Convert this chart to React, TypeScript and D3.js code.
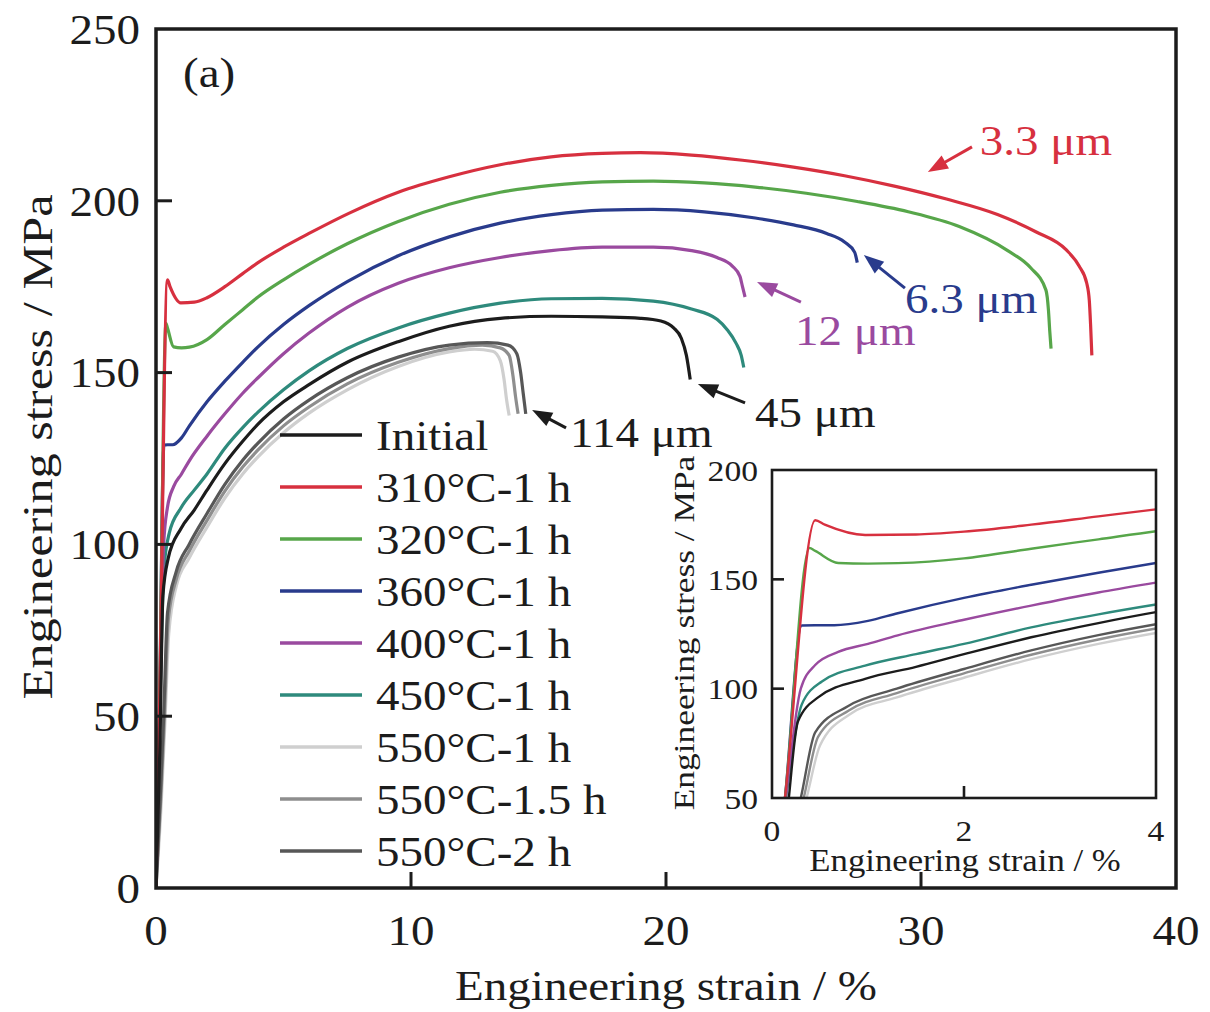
import React from 'react'
import * as d3 from 'd3'

// strain (%) / stress (MPa)
const strainInit = [0, 0.15, 0.27, 0.48, 0.97, 1.5, 2.0, 2.7, 3.4, 4.0, 5.0, 6.0, 7.5, 9.5, 11.5, 13.5, 15.5, 17.5, 19.0, 19.8, 20.3, 20.6, 20.8, 20.95]
const stressInit = [0, 40, 85, 96, 104.5, 110, 115.8, 123.5, 130, 135, 141.5, 146.5, 153, 159, 163.5, 165.8, 166.4, 166.2, 165.8, 165, 163, 160, 155, 148]

const strain310 = [0, 0.13, 0.45, 0.55, 0.97, 1.5, 2.0, 2.7, 3.4, 4.0, 5.0, 6.0, 7.6, 9.5, 11.5, 13.5, 15.5, 17.5, 19.0, 21.0, 23.0, 25.0, 27.0, 29.0, 31.0, 33.0, 34.5, 35.7, 36.2, 36.5, 36.6, 36.65, 36.7]
const stress310 = [0, 48, 177, 175, 170.3, 170.5, 171.8, 175, 178.8, 182, 186.5, 190.5, 196.5, 202.5, 207, 210.5, 212.8, 213.8, 214, 213.3, 211.8, 209.8, 207.3, 204.2, 200.5, 196, 191, 185.7, 181, 176, 171, 164, 155]

const strain320 = [0, 0.13, 0.39, 0.45, 0.69, 1.0, 1.31, 2.0, 2.7, 3.4, 4.0, 5.0, 6.0, 7.5, 9.5, 11.5, 13.5, 15.5, 17.5, 19.5, 21.5, 23.5, 25.5, 27.5, 29.5, 31.5, 33.4, 34.3, 34.9, 35.0, 35.05, 35.1]
const stress320 = [0, 48, 164.3, 163, 157.5, 157.2, 157.4, 159.6, 164, 168.3, 172, 177, 181.5, 187.5, 194, 199, 202.5, 204.5, 205.5, 205.7, 205.2, 204, 202.2, 199.8, 196.8, 192.5, 185.5, 180.5, 174, 168, 162, 157]

const strain360 = [0, 0.13, 0.31, 0.45, 0.65, 1.0, 1.31, 2.0, 2.7, 3.4, 4.0, 5.0, 6.0, 7.5, 9.5, 11.5, 13.5, 15.5, 17.5, 19.5, 21.5, 23.5, 25.0, 26.3, 27.0, 27.4, 27.5]
const stress360 = [0, 48, 128.9, 129, 129, 131, 134.5, 141.5, 147.5, 153, 157.5, 164, 169.5, 176.5, 184, 189.5, 193.5, 196, 197.3, 197.5, 196.8, 195, 193, 190.5, 188, 185, 182]

const strain400 = [0, 0.13, 0.3, 0.45, 0.69, 1.0, 1.31, 2.0, 2.7, 3.4, 4.0, 5.0, 6.0, 7.5, 9.5, 11.5, 13.5, 15.5, 17.5, 19.5, 21.0, 22.0, 22.6, 22.9, 23.0, 23.1]
const stress400 = [0, 45, 100, 110.8, 116.8, 120.5, 124.4, 131.5, 138, 144, 148.5, 155.5, 161.5, 169, 176, 180.5, 183.5, 185.5, 186.5, 186.5, 185.5, 183.5, 181, 178, 175, 172]

const strain450 = [0, 0.13, 0.31, 0.52, 0.97, 1.5, 2.0, 2.7, 3.4, 4.0, 5.0, 6.0, 7.5, 9.5, 11.5, 13.5, 15.5, 17.5, 19.5, 21.0, 22.0, 22.4, 22.75, 22.95, 23.05]
const stress450 = [0, 45, 92.8, 103.3, 110.5, 115.8, 120.5, 128, 134, 138.5, 145, 150.5, 157, 163, 167.3, 170.2, 171.5, 171.6, 170.8, 168.5, 165.5, 162.5, 158.5, 155, 151.5]

const strain550a = [0, 0.2, 0.36, 0.5, 0.8, 1.3, 2.0, 2.7, 3.4, 4.0, 5.0, 6.0, 7.5, 9.5, 11.5, 12.5, 13.2, 13.5, 13.65, 13.75, 13.85]
const stress550a = [0, 24, 50, 74, 88, 96, 105, 113.5, 120.5, 125.5, 132.5, 138.2, 145, 151.8, 156, 156.8, 156.2, 153.5, 148, 142, 137.5]

const strain550b = [0, 0.2, 0.33, 0.48, 0.8, 1.3, 2.0, 2.7, 3.4, 4.0, 5.0, 6.0, 7.5, 9.5, 11.5, 12.8, 13.5, 13.85, 14.0, 14.1, 14.2]
const stress550b = [0, 28, 50, 78, 90, 98, 107, 115.5, 122.5, 127.5, 134.5, 140, 146.7, 153, 157, 158, 157.2, 155, 149, 143, 138]

const strain550c = [0, 0.2, 0.3, 0.45, 0.79, 1.3, 2.0, 2.7, 3.4, 4.0, 5.0, 6.0, 7.5, 9.5, 11.5, 13.0, 13.8, 14.15, 14.3, 14.4, 14.5]
const stress550c = [0, 32, 50, 80, 92, 100, 109, 117.5, 124.5, 129.5, 136.5, 142, 148.5, 154.5, 158, 158.7, 158, 155.5, 150, 144, 138]

const seriesNames = ['Initial', '310°C-1 h', '320°C-1 h', '360°C-1 h', '400°C-1 h', '450°C-1 h', '550°C-1 h', '550°C-1.5 h', '550°C-2 h']
const seriesColors = ['#1c1c1c', '#d7303f', '#57a64a', '#293b8c', '#9a4a9f', '#2e8a7c', '#cfcfcf', '#8e8e8e', '#575757']
const strains = [strainInit, strain310, strain320, strain360, strain400, strain450, strain550a, strain550b, strain550c]
const stresses = [stressInit, stress310, stress320, stress360, stress400, stress450, stress550a, stress550b, stress550c]
// draw order: greys at the back, black on top
const drawOrder = [6, 7, 8, 5, 4, 3, 2, 1, 0]

const xTicks = [0, 10, 20, 30, 40]
const yTicks = [0, 50, 100, 150, 200, 250]
const insetXTicks = [0, 2, 4]
const insetYTicks = [50, 100, 150, 200]

// grain size notes: [label, series index, tip strain, tip stress, tail strain, tail stress, text strain, text stress]
const notes = [
    ['3.3 μm', 1, 30.27, 208.4, 32.0, 215.7, 32.3, 217.7],
    ['6.3 μm', 3, 27.76, 184.2, 29.37, 174.6, 29.37, 171.7],
    ['12 μm', 4, 23.57, 176.4, 25.29, 170.5, 25.06, 162.4],
    ['45 μm', 0, 21.25, 146.7, 23.1, 141.2, 23.49, 138.5],
    ['114 μm', 0, 14.75, 139.1, 16.08, 133.9, 16.24, 132.7],
]

const FONT = "'Liberation Serif', 'Times New Roman', Times, serif"
const INK = '#1c1c1c'

const Txt = ({ x, y, size, anchor = 'start', color = INK, stretch = 1.12, rotate = 0, children }) => (
    <text transform={`translate(${x},${y}) rotate(${rotate}) scale(${stretch},1)`}
        fontSize={size} textAnchor={anchor} dy="0.35em" fill={color} fontFamily={FONT}>
        {children}
    </text>
)

const Arrow = ({ x1, y1, x2, y2, color }) => {
    const a = Math.atan2(y2 - y1, x2 - x1)
    const len = 20, hw = 7.5
    const bx = x2 - len * Math.cos(a), by = y2 - len * Math.sin(a)
    const px = -Math.sin(a) * hw, py = Math.cos(a) * hw
    return (
        <g>
            <line x1={x1} y1={y1} x2={bx + 2 * Math.cos(a)} y2={by + 2 * Math.sin(a)} stroke={color} strokeWidth={3} />
            <polygon points={`${x2},${y2} ${bx + px},${by + py} ${bx - px},${by - py}`} fill={color} />
        </g>
    )
}

export default function App() {
    const width = 1210, height = 1012

    const x = d3.scaleLinear().domain([0, 40]).range([156, 1176])
    const y = d3.scaleLinear().domain([0, 250]).range([888, 29])

    const ix = d3.scaleLinear().domain([0, 4]).range([772, 1156])
    const iy = d3.scaleLinear().domain([50, 200]).range([798, 470])

    const mainLine = d3.line().x(d => x(d[0])).y(d => y(d[1])).curve(d3.curveMonotoneX)
    const insetLine = d3.line().x(d => ix(d[0])).y(d => iy(d[1])).curve(d3.curveMonotoneX)
    const pts = i => strains[i].map((s, k) => [s, stresses[i][k]])

    const legendX = 280, legendY = 435, legendStep = 52

    return (
        <svg width={width} height={height} style={{ position: 'absolute', left: 0, top: 0, background: '#fff' }}>
            <defs>
                <clipPath id="mainClip">
                    <rect x={x(0)} y={y(250)} width={x(40) - x(0)} height={y(0) - y(250)} />
                </clipPath>
                <clipPath id="insetClip">
                    <rect x={ix(0)} y={iy(200)} width={ix(4) - ix(0)} height={iy(50) - iy(200)} />
                </clipPath>
            </defs>

            {/* main curves */}
            <g clipPath="url(#mainClip)" fill="none" strokeWidth={3.2} strokeLinejoin="round">
                {drawOrder.map(i => (
                    <path key={i} d={mainLine(pts(i))} stroke={seriesColors[i]} />
                ))}
            </g>

            {/* main frame + inward ticks */}
            <rect x={x(0)} y={y(250)} width={x(40) - x(0)} height={y(0) - y(250)} fill="none" stroke={INK} strokeWidth={3.5} />
            {xTicks.slice(1, -1).map(t => (
                <line key={t} x1={x(t)} x2={x(t)} y1={y(0)} y2={y(0) - 16} stroke={INK} strokeWidth={3} />
            ))}
            {yTicks.slice(1, -1).map(t => (
                <line key={t} x1={x(0)} x2={x(0) + 16} y1={y(t)} y2={y(t)} stroke={INK} strokeWidth={3} />
            ))}
            {xTicks.map(t => (
                <Txt key={t} x={x(t)} y={930} size={42} anchor="middle">{t}</Txt>
            ))}
            {yTicks.map(t => (
                <Txt key={t} x={140} y={y(t)} size={42} anchor="end">{t}</Txt>
            ))}
            <Txt x={666} y={985} size={42} anchor="middle">Engineering strain / %</Txt>
            <Txt x={37} y={447} size={42} anchor="middle" rotate={-90} stretch={1.2}>Engineering stress / MPa</Txt>
            <Txt x={x(1.06)} y={y(237.5)} size={42}>(a)</Txt>

            {/* grain size notes */}
            {notes.map(([label, si, tx, ty, hx, hy, lx, ly]) => {
                const c = si === 0 ? INK : seriesColors[si]
                return (
                    <g key={label}>
                        <Arrow x1={x(hx)} y1={y(hy)} x2={x(tx)} y2={y(ty)} color={c} />
                        <Txt x={x(lx)} y={y(ly)} size={42} color={c}>{label}</Txt>
                    </g>
                )
            })}

            {/* legend */}
            {seriesNames.map((name, i) => (
                <g key={name}>
                    <line x1={legendX} x2={legendX + 82} y1={legendY + i * legendStep} y2={legendY + i * legendStep}
                        stroke={seriesColors[i]} strokeWidth={3.5} />
                    <Txt x={legendX + 96} y={legendY + i * legendStep} size={42}>{name}</Txt>
                </g>
            ))}

            {/* inset */}
            <rect x={ix(0)} y={iy(200)} width={ix(4) - ix(0)} height={iy(50) - iy(200)} fill="#fff" />
            <g clipPath="url(#insetClip)" fill="none" strokeWidth={2.4} strokeLinejoin="round">
                {drawOrder.map(i => (
                    <path key={i} d={insetLine(pts(i))} stroke={seriesColors[i]} />
                ))}
            </g>
            <rect x={ix(0)} y={iy(200)} width={ix(4) - ix(0)} height={iy(50) - iy(200)} fill="none" stroke={INK} strokeWidth={2.6} />
            {insetXTicks.slice(1, -1).map(t => (
                <line key={t} x1={ix(t)} x2={ix(t)} y1={iy(50)} y2={iy(50) - 12} stroke={INK} strokeWidth={2.6} />
            ))}
            {insetYTicks.slice(1, -1).map(t => (
                <line key={t} x1={ix(0)} x2={ix(0) + 12} y1={iy(t)} y2={iy(t)} stroke={INK} strokeWidth={2.6} />
            ))}
            {insetXTicks.map(t => (
                <Txt key={t} x={ix(t)} y={830} size={30} anchor="middle">{t}</Txt>
            ))}
            {insetYTicks.map(t => (
                <Txt key={t} x={758} y={iy(t)} size={30} anchor="end">{t}</Txt>
            ))}
            <Txt x={965} y={860} size={31} anchor="middle">Engineering strain / %</Txt>
            <Txt x={684} y={633} size={29} anchor="middle" rotate={-90} stretch={1.22}>Engineering stress / MPa</Txt>
        </svg>
    )
}
